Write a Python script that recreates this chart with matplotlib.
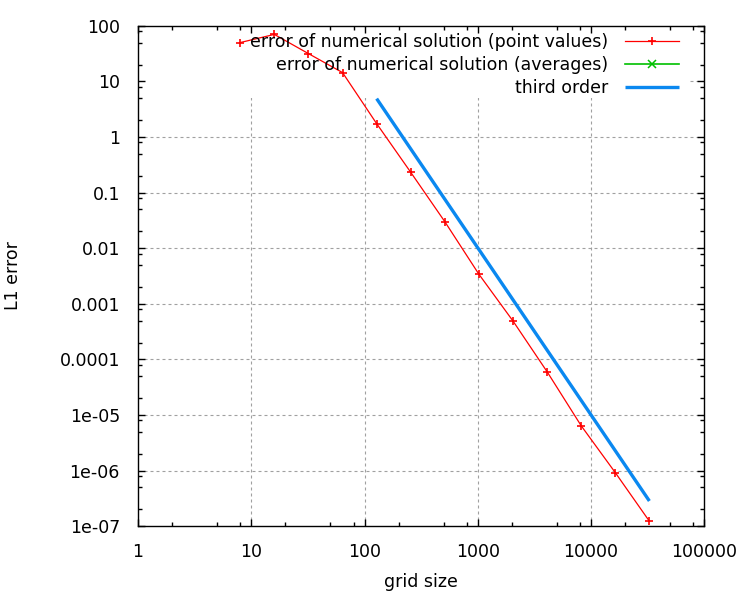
import matplotlib
matplotlib.use("Agg")
import matplotlib.pyplot as plt
from matplotlib.patches import Rectangle

plt.rcParams['font.family'] = ['DejaVu Sans']

# errore L1 (valori puntuali)
grid_n = [8, 16, 32, 64, 128, 256, 512, 1024, 2048, 4096, 8192, 16384, 32768]
err_point = [50, 70, 31.6, 14.4, 1.74, 0.232, 0.030, 0.0034, 4.9e-4,
             6.0e-5, 6.4e-6, 9.2e-7, 1.23e-7]

# la serie delle medie non compare nel disegno, solo in legenda
avg_n = []
err_avg = []

# retta di riferimento del terzo ordine (estremi)
third_n = [128, 32768]
third_err = [4.9, 2.84e-7]

xticks = [1, 10, 100, 1000, 10000, 100000]
xlabels = ['1', '10', '100', '1000', '10000', '100000']
yticks = [1e-7, 1e-6, 1e-5, 1e-4, 1e-3, 1e-2, 0.1, 1, 10, 100]
ylabels = ['1e-07', '1e-06', '1e-05', '0.0001', '0.001', '0.01', '0.1', '1', '10', '100']

FS = 12.5

fig = plt.figure(figsize=(7.5, 6), dpi=100)
ax = fig.add_axes([0.184, 0.123, 0.755, 0.834])
ax.set_xscale('log')
ax.set_yscale('log')
ax.set_xlim(1, 1e5)
ax.set_ylim(1e-7, 100)

# griglia a mano, cosi' la legenda la puo' coprire
for xv in xticks[1:-1]:
    ax.axvline(xv, color='#a0a0a0', lw=0.8, ls=(0, (2.7, 2.7)), zorder=0.6)
for yv in yticks[1:-1]:
    ax.axhline(yv, color='#a0a0a0', lw=0.8, ls=(0, (2.7, 2.7)), zorder=0.6)
ax.add_patch(Rectangle((0, 0.855), 0.975, 0.145, transform=ax.transAxes,
                       facecolor='white', edgecolor='none', zorder=0.8))

ax.plot(grid_n, err_point, color='#ff0000', lw=0.9, marker='+', ms=5.5, mew=1.2,
        label='error of numerical solution (point values)', zorder=3)
ax.plot(avg_n, err_avg, color='#00c000', lw=1.2, marker='x', ms=5.5, mew=1.1,
        label='error of numerical solution (averages)')
ax.plot(third_n, third_err, color='#0a88f0', lw=2.4, solid_capstyle='butt',
        label='third order', zorder=2)

ax.set_xticks(xticks, xlabels)
ax.set_yticks(yticks, ylabels)
ax.xaxis.set_minor_locator(matplotlib.ticker.LogLocator(base=10, subs=[2, 5, 8], numticks=20))
ax.yaxis.set_minor_locator(matplotlib.ticker.LogLocator(base=10, subs=[2, 5, 8], numticks=20))
ax.xaxis.set_minor_formatter(matplotlib.ticker.NullFormatter())
ax.yaxis.set_minor_formatter(matplotlib.ticker.NullFormatter())
ax.tick_params(which='both', direction='in', top=True, right=True, labelsize=FS, width=1)
ax.tick_params(which='major', length=5)
ax.tick_params(which='minor', length=3)
ax.tick_params(axis='x', which='major', pad=12)
ax.tick_params(axis='y', which='major', pad=13)
for s in ax.spines.values():
    s.set_linewidth(1.0)

ax.set_xlabel('grid size', fontsize=FS)
ax.set_ylabel('L1 error', fontsize=FS)
ax.xaxis.set_label_coords(0.5, -0.094)
ax.yaxis.set_label_coords(-0.205, 0.5)

ax.legend(loc='upper right', bbox_to_anchor=(0.956, 0.986), frameon=False, markerfirst=False,
          fontsize=FS, handlelength=3.15, handletextpad=0.95, labelspacing=0.3,
          borderaxespad=0.0, borderpad=0.0)

fig.savefig('out.png', dpi=100)
